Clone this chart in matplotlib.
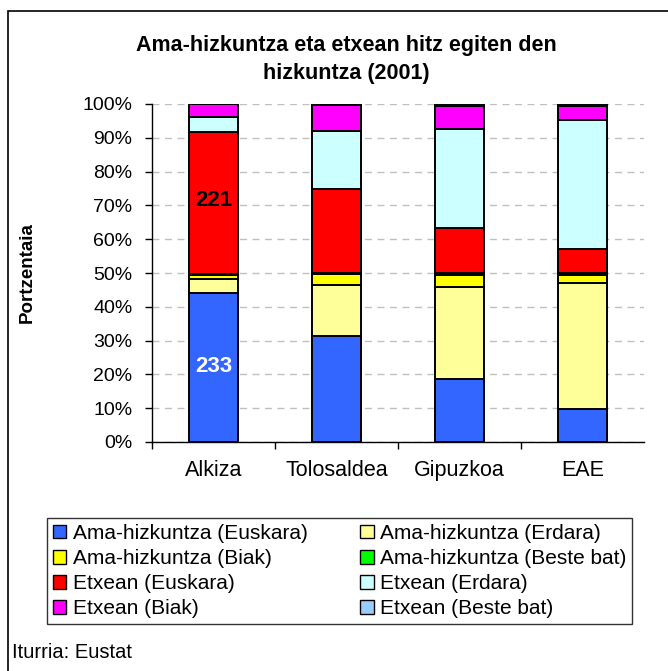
import matplotlib
matplotlib.use("Agg")
import matplotlib.pyplot as plt
from matplotlib.patches import Patch, Rectangle
from matplotlib.ticker import FixedLocator, FuncFormatter

plt.rcParams['font.family'] = ['Liberation Sans', 'DejaVu Sans']

# Eskualdeak
regions = ["Alkiza", "Tolosaldea", "Gipuzkoa", "EAE"]

# Serieak (% pilatuta, 100 guztira)
series_names = [
    "Ama-hizkuntza (Euskara)", "Ama-hizkuntza (Erdara)",
    "Ama-hizkuntza (Biak)", "Ama-hizkuntza (Beste bat)",
    "Etxean (Euskara)", "Etxean (Erdara)",
    "Etxean (Biak)", "Etxean (Beste bat)",
]
ama_euskara = [44.0, 31.4, 18.7, 9.9]
ama_erdara = [4.2, 15.1, 27.2, 37.1]
ama_biak = [1.1, 3.1, 3.6, 2.5]
ama_beste = [0.4, 0.4, 0.5, 0.5]
etx_euskara = [41.9, 25.0, 13.3, 7.1]
etx_erdara = [4.6, 17.1, 29.3, 38.2]
etx_biak = [3.8, 7.7, 6.8, 4.1]
etx_beste = [0.0, 0.2, 0.6, 0.6]

colors = ["#3366FF", "#FFFF99", "#FFFF00", "#00FF00",
          "#FF0000", "#CCFFFF", "#FF00FF", "#99CCFF"]

# Alkizako kopuruak
alkiza_labels = {"233": (0, 22.2, "white"), "221": (0, 71.4, "black")}

fig = plt.figure(figsize=(6.68, 6.71), dpi=100)
ax = fig.add_axes([152 / 668, 1 - 442 / 671, (644 - 152) / 668, (442 - 104) / 671])

all_series = [ama_euskara, ama_erdara, ama_biak, ama_beste,
              etx_euskara, etx_erdara, etx_biak, etx_beste]
x = range(len(regions))
bottom = [0.0] * len(regions)
for vals, col in zip(all_series, colors):
    ax.bar(x, vals, width=0.405, bottom=bottom, color=col,
           edgecolor="black", linewidth=1.4, zorder=3)
    bottom = [b + v for b, v in zip(bottom, vals)]

for txt, (xi, yi, c) in alkiza_labels.items():
    ax.text(xi, yi, txt, ha="center", va="center", color=c,
            fontsize=16, fontweight="bold")

ax.set_xlim(-0.5, 3.5)
ax.set_ylim(0, 100)
ax.yaxis.set_major_locator(FixedLocator(range(0, 101, 10)))
ax.yaxis.set_major_formatter(FuncFormatter(lambda v, p: f"{int(v)}%"))
ax.grid(axis="y", color="#C0C0C0", linestyle=(0, (5, 4)), linewidth=1, zorder=0)
ax.tick_params(axis="y", length=5, width=1, labelsize=14, pad=9)

ax.set_xticks(list(x))
ax.set_xticklabels(regions, fontsize=15.5)
ax.set_xticks([-0.5, 0.5, 1.5, 2.5], minor=True)
ax.tick_params(axis="x", which="major", length=0, pad=13)
ax.tick_params(axis="x", which="minor", length=5, width=1)

for s in ["top", "right"]:
    ax.spines[s].set_visible(False)
ax.spines["left"].set_linewidth(1)
ax.spines["bottom"].set_linewidth(1)

fig.text(346 / 668, 1 - 46 / 671, "Ama-hizkuntza eta etxean hitz egiten den",
         ha="center", va="center", fontsize=15.5, fontweight="bold")
fig.text(346 / 668, 1 - 73 / 671, "hizkuntza (2001)",
         ha="center", va="center", fontsize=15.5, fontweight="bold")
fig.text(27 / 668, 1 - 273 / 671, "Portzentaia", rotation=90,
         ha="center", va="center", fontsize=13.5, fontweight="bold")

# legenda errenkadaz errenkada
order = [0, 2, 4, 6, 1, 3, 5, 7]
handles = [Patch(facecolor=colors[i], edgecolor="black", linewidth=1) for i in order]
labels = [series_names[i] for i in order]
leg = fig.legend(handles, labels, ncol=2, loc="upper left",
                 bbox_to_anchor=(47 / 668, 1 - 518 / 671, (632 - 47) / 668, 0),
                 mode="expand", fontsize=15, frameon=True, fancybox=False,
                 edgecolor="black", handlelength=0.65, handleheight=0.65,
                 handletextpad=0.3, labelspacing=0.29, borderaxespad=0,
                 borderpad=0.28)
leg.get_frame().set_linewidth(1)

fig.text(12 / 668, 1 - 652 / 671, "Iturria: Eustat", ha="left", va="center",
         fontsize=14.5)

# kanpoko markoa
fig.add_artist(Rectangle((8 / 668, -0.1), 1.2, 1.1 - 11 / 671,
                         transform=fig.transFigure, fill=False,
                         edgecolor="black", linewidth=1.2))

fig.savefig("out.png", dpi=100)
